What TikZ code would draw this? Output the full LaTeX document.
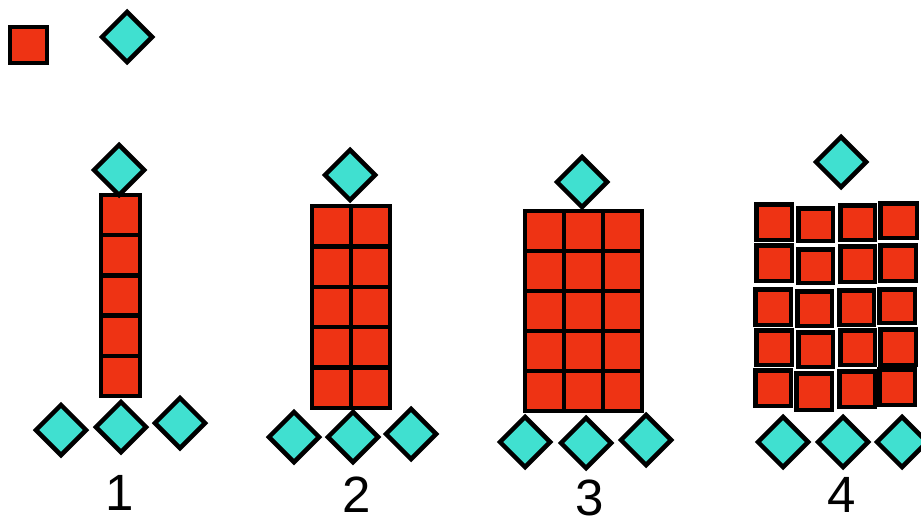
\documentclass[tikz,border=0pt]{standalone}
\usepackage{fontspec}
\setmainfont{Liberation Sans}
\usetikzlibrary{shapes.geometric}
\definecolor{tilered}{RGB}{238,51,20}
\definecolor{turq}{RGB}{64,224,208}
\tikzset{
  tile/.style={draw=black, fill=tilered, line width=4.5pt, rectangle, inner sep=0pt, outer sep=0pt},
  gem/.style={draw=black, fill=turq, line width=4.5pt, diamond, inner sep=0pt, minimum width=52pt, minimum height=52pt},
  numlabel/.style={font=\fontsize{51}{51}\selectfont, inner sep=0pt, anchor=base},
}
\begin{document}
\begin{tikzpicture}[x=1pt,y=-1pt]
\useasboundingbox (0,0) rectangle (921,519);
\clip (0,0) rectangle (921,519);
% legend
\node[tile, minimum width=37pt, minimum height=36pt] (legsq) at (28.5,45) {};
\node[gem] (leggem) at (127,37) {};

% figure 1
\foreach \r in {0,...,4}{
  \node[tile, minimum width=39pt, minimum height=40.2pt] (a-\r) at (120.5,{215.1+40.2*\r}) {};
}
\node[gem] (a-top) at (119,170) {};
\node[gem] (a-b1) at (61,430) {};
\node[gem] (a-b2) at (121,427) {};
\node[gem] (a-b3) at (180,423) {};
\node[numlabel] (a-lab) at (120,510) {1};

% figure 2
\foreach \c in {0,1}{
  \foreach \r in {0,...,4}{
    \node[tile, minimum width=39pt, minimum height=40.4pt] (b-\c-\r) at ({331.5+39*\c},{226.2+40.4*\r}) {};
  }
}
\node[gem] (b-top) at (350,175) {};
\node[gem] (b-b1) at (294,437) {};
\node[gem] (b-b2) at (353,437) {};
\node[gem] (b-b3) at (411,434) {};
\node[numlabel] (b-lab) at (357,512) {2};

% figure 3
\foreach \c in {0,1,2}{
  \foreach \r in {0,...,4}{
    \node[tile, minimum width=39pt, minimum height=40pt] (c-\c-\r) at ({544.5+39*\c},{231+40*\r}) {};
  }
}
\node[gem] (c-top) at (582,182) {};
\node[gem] (c-b1) at (525,442) {};
\node[gem] (c-b2) at (586,443) {};
\node[gem] (c-b3) at (646,440) {};
\node[numlabel] (c-lab) at (590,515) {3};

% figure 4 (separate tiles)
\foreach \x/\y/\w/\h [count=\i] in {
  774/222/40/40, 815.5/224.5/39/37, 857.5/222.5/39/39, 898.5/220.5/41/39,
  774/263/40/40, 815.5/266/39/38, 857.5/264/39/40, 898/263/40/40,
  773/307/40/40, 814.5/308.5/39/39, 856.5/307.5/39/39, 897/306/40/38,
  774/347.5/40/39, 815.5/349.5/39/39, 857.5/347.5/39/39, 898/347/40/40,
  773/388/40/40, 814/391.5/40/41, 857/389/40/40, 897/387/40/40}{
  \node[tile, minimum width={(\w-4.5)*1pt}, minimum height={(\h-4.5)*1pt}] (d-\i) at (\x,\y) {};
}
\node[gem] (d-top) at (841,162) {};
\node[gem] (d-b1) at (783,442) {};
\node[gem] (d-b2) at (843,442) {};
\node[gem] (d-b3) at (902,442) {};
\node[numlabel] (d-lab) at (842,512) {4};
\end{tikzpicture}
\end{document}
